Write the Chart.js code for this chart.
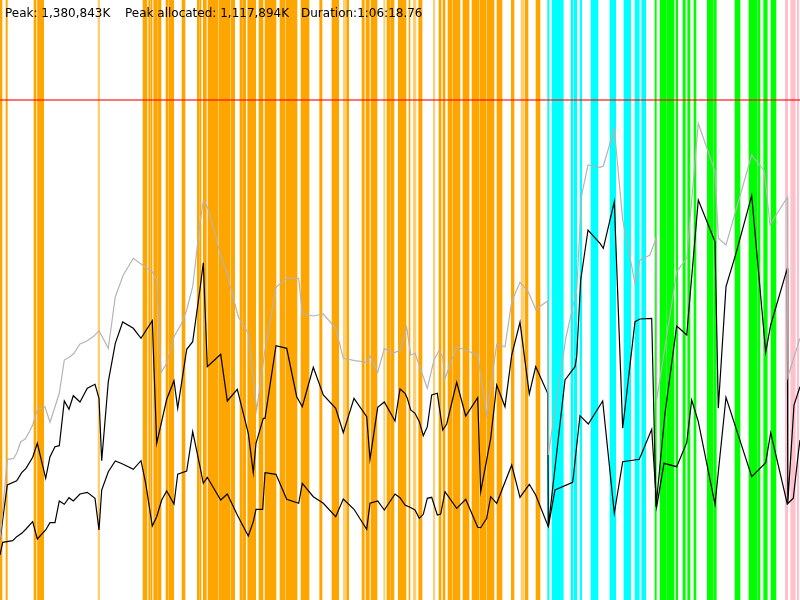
<!DOCTYPE html>
<html>
<head>
<meta charset="utf-8">
<script src="https://cdn.jsdelivr.net/npm/chart.js@4.4.1/dist/chart.umd.min.js"></script>
<style>
  body { margin: 0; background: #fff; }
  #wrap { position: relative; width: 800px; height: 600px; }
  #chart { position: absolute; left: 0; top: 0; }
  .info { position: absolute; top: 7px; font: 12px "DejaVu Sans", sans-serif; line-height: 12px; color: #000; white-space: nowrap; z-index: 2; }
</style>
</head>
<body>
<div id="wrap">
  <canvas id="chart" width="800" height="600"></canvas>
  <span class="info" style="left:5px">Peak: 1,380,843K</span>
  <span class="info" style="left:125px">Peak allocated: 1,117,894K</span>
  <span class="info" style="left:301px">Duration:1:06:18.76</span>
</div>
<script>
// memory samples (time on x, memory on y, same units as the axes)
const heapX = [0,7.3,13.3,16.7,20.7,25,29.3,32.7,37.3,45,50,55,59.3,64.3,70,74,80,87.3,94,99,108.3,115.3,123.3,133.3,141,152.3,156.7,161,166.7,174,181.7,186.7,192.7,200,203.3,207.3,213.3,220,227.3,238.3,248.3,256.7,265,276,286.7,298.7,302.3,313.3,323.3,335.7,343.3,355,366.7,370,377.7,384.3,393.3,400,406.7,410.7,415,427.3,434,439,442.7,445,456.7,477.7,486.7,496.7,505,511.7,520,528.3,535.7,547.7,548.3,566,576.7,581.7,588,600,603.3,614.3,622.7,635,640,650,656,656.7,676.7,686.7,698.3,715,718.3,726,751.7,764.3,770,787.3,787.8,800]
const heapY = [60,140.7,141.3,146.7,158.3,160.7,168.3,175,190,193.3,177.7,193.3,206.7,240,243.3,246.7,256,259.3,264,269.3,251.7,303.3,325,341.7,336,328.3,320,227.3,236.7,263.3,276.7,290,313.3,377,399.3,393.3,373.3,346.7,325,283.3,266.7,190,250,312.7,321.7,321.7,286,284,286,271.7,241.7,239.3,237.7,244.3,227.7,251.3,246.7,250,272.7,245,246.7,211.7,240,249.3,243.3,221.7,253.3,245,185,256,253.3,298.3,317.7,308.3,290.7,299,145,263,310,405,435,432.7,434,471,380,316.7,340,345,361.7,200,328.3,341.7,476.7,428.3,361.7,355,445,429,375,402.7,223,261.7]

const usedX = [0,7.3,16.7,21.7,26,32.7,37.3,45.7,50,55,59.3,64.3,69,73.3,80,87.3,95,99,101.7,108.3,115.3,122.7,133.3,141,152.3,156.7,166.7,174,177.7,186.7,192.7,200,203.3,207.3,220.7,227.3,237.3,248.3,253.3,256,263.3,265,276,286.7,296.7,302.3,313.3,323.3,335.7,343.3,354,366.7,370,377.7,384.3,395,400,405,407.3,410.7,415,419.3,423.3,427.3,431.7,437.3,442.7,446.7,456.7,465.7,477.7,480.7,490.7,496.7,505,511.7,520,529.3,535.7,547.7,548.3,565,575,576.7,580.7,588,600,603.3,614.3,622.7,635,640,651.7,656,665,676.7,686.7,698.3,715,718.3,726,736,751.7,765.7,770.7,787.3,787.8,794,800]
const usedY = [60,115,119.3,127.3,131.7,142.7,156.7,121.7,143.3,153.3,154.3,199,190.7,204.3,198,211.7,215.7,201.7,139.3,218.3,256.7,278,271.7,261.7,279.3,156.7,200.7,219.3,191.7,250.7,258.3,311,337.3,233.3,245.7,199,210.7,166.7,127.3,156.7,181.7,181.7,254.3,251.7,203.3,193.3,232.7,205,191.7,167.3,201.7,183.3,140.7,192.7,198,179,211,206.7,201.7,190,186.7,178.3,164.3,173.3,205,206.7,170,176,217.7,184,202.3,108.3,161.7,215,193.3,245,277.7,206,233.3,206.7,73.3,220,233.3,243.3,320,370,356.7,351.7,398.3,171.7,278.3,281,281.7,93.3,186.7,274,265,400,358.3,191.7,313.3,346.7,404.3,247.7,275,331.7,97,195,213.3]

const liveX = [0,2.7,12.7,16.7,21.7,26,32.7,37.3,45.7,50,55,59.3,64.3,69,73.3,80,87.3,95,99,101.7,108.3,115.3,122.7,133.3,141,145.7,152.3,156.7,161.7,166.7,174,177.7,186.7,192.7,200,203.3,207.3,220.7,227.3,237.3,248.3,253.3,256,262.7,265,276,286.7,298.7,302.3,313.3,323.3,335.7,343.3,354,366.7,370,377.7,384.3,395,400,405,410,415,419.3,423.3,427.3,431.7,437.3,440.7,445,456.7,465.7,477.7,480.7,486.7,490.7,496.7,511.7,520,529.3,535.7,548.3,555,572.7,580,588.3,602.7,614.3,622.7,639.3,651.7,656.7,664,676.7,686.7,691.7,698.3,715,726,751.7,765.7,770.7,787.3,793.3,798.3,800]
const liveY = [45,57.7,59.3,63.3,66.7,71,78.3,61,70,77.3,77.3,99,95.7,102.3,99,106,107.7,101.7,70,110,128.3,139,136,130.7,139.3,116.7,74,83.3,100,109,96,125.7,129,168.3,133.3,116.7,122.7,100,106,85,64,78.3,90.7,90.7,127.3,125.7,100.7,96.7,116.7,103.3,96.7,83.3,101,90.7,70.7,96.7,99,90,106,102.3,95,92.7,90,81.7,85.7,101.7,102.7,85,86,108.3,91.7,100.7,72.7,72.3,81.7,103.3,96.7,135,102.7,115.7,105,73.3,110,117.7,184.3,176,199,86.7,138.3,140.7,170.7,93.3,136.7,133.3,157.3,200,178.3,95.7,202.7,123.3,137.3,167.3,96,101.7,146.7,160]

const limit = 500

// collector activity, [start, end] on the time axis
const orangeBands = [[0,2],[6,7.3],[34,36],[37.5,43.7],[143,147],[148.7,149.7],[150.7,152],[153.7,157.3],[158,161],[166,167.7],[168.7,173.7],[182,185],[197.3,199.3],
  [200,201],[203.3,206.3],[208,218],[219,230],[231,234.7],[240,242],[242.7,245.7],[247.7,255.7],[259,263],[265,276],[280,285],[286,293.7],[294.3,297],[301,309],[319.7,322],[332,338.7],[346.7,348.7],[362,364.3],[366,369.3],[371,377],[387,390.3],[391,394],[398.3,400],
  [400,406],[409,410],[418.7,422],[439,441],[443,445],[448,452],[453,460],[463,469],[472,479],[480,486],[487,494],[497,502],[511.3,514],[525,528],[536,540]]
const paleBands = [[98,99.7],[343.3,345.7],[383.7,385],[413.3,416],[433.3,434.7],[521,523.7]]
const cyanBands = [[547.7,549],[552,563.3],[571,572.7],[574,576.7],[580,581.7],[591,598],[610,615.7],[624,630.7],[635,639.3],[641.7,645.7]]
const greenBands = [[655,656.3],[660,666.3],[667,671.7],[672,674],[676,677.7],[683,685.3],[687.7,690],[694,696],[707.3,712.7],[713.7,716.3],[735,740],[749,751.7],[752,756.7],[757.7,760],[763.7,767.3],[771,776]]
const pinkBands = [[785.3,787.7],[790.7,795.3],[797.3,798.7]]

const pts = (xs, ys) => xs.map((x, i) => ({x: x, y: ys[i]}))

const serie = (label, xs, ys, color) => ({
  type: 'line', label: label, data: pts(xs, ys),
  borderColor: color, borderWidth: 1.2, pointRadius: 0, tension: 0, fill: false,
  xAxisID: 'x', yAxisID: 'y', order: 1
})

const bands = (label, list, color) => ({
  type: 'bar', label: label, data: list.map(b => ({x: b, y: 'gc'})),
  indexAxis: 'y', xAxisID: 'x', yAxisID: 'gc',
  backgroundColor: color, borderWidth: 0, borderSkipped: false,
  grouped: false, barPercentage: 1, categoryPercentage: 1, order: 5
})

new Chart(document.querySelector('#chart'), {
  type: 'line',
  data: {
    datasets: [
      {type: 'line', label: 'limit', data: [{x: 0, y: limit}, {x: 800, y: limit}],
        borderColor: 'rgba(255,0,0,0.55)', borderWidth: 2, pointRadius: 0,
        xAxisID: 'x', yAxisID: 'y', order: 0},
      serie('heap', heapX, heapY, '#b4b4b4'),
      serie('used', usedX, usedY, '#000'),
      serie('live', liveX, liveY, '#000'),
      bands('gc', orangeBands, '#ffa500'),
      bands('gc light', paleBands, 'rgba(255,165,0,0.55)'),
      bands('cyan', cyanBands, '#00ffff'),
      bands('green', greenBands, '#00ff00'),
      bands('pink', pinkBands, '#ffc0cb')
    ]
  },
  options: {
    responsive: false,
    animation: false,
    events: [],
    layout: {padding: 0},
    plugins: {legend: {display: false}, tooltip: {enabled: false}},
    scales: {
      x: {type: 'linear', min: 0, max: 800, display: false},
      y: {type: 'linear', min: 0, max: 600, display: false},
      gc: {type: 'category', axis: 'y', labels: ['gc'], offset: true, display: false}
    }
  }
})
</script>
</body>
</html>
